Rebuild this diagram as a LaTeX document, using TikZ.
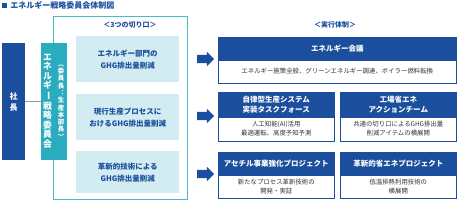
\documentclass[tikz,border=0pt]{standalone}
\usepackage{fontspec}
\setmainfont{Noto Sans CJK JP}
\usepackage{xcolor}
\usepackage{graphicx}
\usetikzlibrary{positioning,shapes.arrows}

\definecolor{navy}{HTML}{1B4F9E}
\definecolor{cteal}{HTML}{2AABBE}
\definecolor{frameteal}{HTML}{4CB8CC}
\definecolor{paleblue}{HTML}{D3ECF1}
\definecolor{bodytext}{HTML}{333333}

\newcommand{\tatebo}{\rotatebox[origin=c]{-90}{ー}}

\begin{document}
\begin{tikzpicture}[
  x=1pt, y=-1pt,
  cut/.style={rectangle, fill=paleblue, minimum width=103pt, anchor=north west, align=center, text=navy, font=\fontsize{7.5}{12}\selectfont\bfseries},
  hdr/.style={rectangle, fill=navy, draw=navy, line width=0.6pt, anchor=north west, align=center, text=white, inner sep=1pt, font=\fontsize{7.5}{10}\selectfont\bfseries},
  bodybox/.style={rectangle, fill=white, draw=navy, line width=0.6pt, below=0pt of #1, align=center, text=bodytext, inner sep=1pt, font=\fontsize{6.4}{9}\selectfont},
  tag/.style={text=navy, inner sep=0pt, font=\fontsize{7}{7}\selectfont\bfseries},
  bigarrow/.style={single arrow, fill=navy, inner xsep=0pt, inner ysep=4pt, minimum height=17pt, single arrow head extend=3pt},
  link/.style={draw=gray!80, line width=0.8pt}
]
\useasboundingbox (0,0) rectangle (461,207);

% title
\node[fill=navy, inner sep=0pt, minimum size=5pt] (mark) at (4.5,5.5) {};
\node[right=3pt of mark, tag, font=\fontsize{8}{8}\selectfont\bfseries] (title) {エネルギー戦略委員会体制図};

% left side
\node[draw=frameteal, fill=white, line width=0.9pt, minimum width=134pt, minimum height=183pt, anchor=north west] (frame) at (53,16) {};
\node[tag] (cutlabel) at (130,25) {＜3つの切り口＞};

\node[fill=navy, minimum width=23pt, minimum height=117pt, anchor=north west] (pres) at (2,43) {};
\node[text=white, align=center, font=\fontsize{8}{11}\selectfont\bfseries] (prestext) at (pres.center) {社\\長};
\node[fill=cteal, minimum width=26pt, minimum height=117pt, anchor=north west] (cmte) at (41,43) {};
\node[text=white, align=center, inner sep=0pt, font=\fontsize{8.8}{9.5}\selectfont\bfseries] (cmtename) at (47.5,101) {エ\\ネ\\ル\\ギ\\\tatebo\\戦\\略\\委\\員\\会};
\node[text=white, align=center, inner sep=0pt, font=\fontsize{6.4}{7.3}\selectfont\bfseries] (cmtechair) at (61,102) {︵\\委\\員\\長\\︓\\生\\産\\本\\部\\長\\︶};
\draw[link] (pres.east) -- (cmte.west);

\node[cut, minimum height=46pt] (cut1) at (76,36) {エネルギー部門の\\GHG排出量削減};
\node[cut, minimum height=46pt] (cut2) at (76,94) {現行生産プロセスに\\おけるGHG排出量削減};
\node[cut, minimum height=42pt] (cut3) at (76,151) {革新的技術による\\GHG排出量削減};

% arrows
\node[bigarrow] (arr1) at (203.5,59) {};
\node[bigarrow] (arr2) at (203.5,116) {};
\node[bigarrow] (arr3) at (203.5,174) {};

% right side
\node[tag] (execlabel) at (335,25) {＜実行体制＞};

\node[hdr, minimum width=238pt, minimum height=22pt] (kaigi) at (218,37) {エネルギー会議};
\node[bodybox=kaigi, minimum width=238pt, minimum height=23pt] (kaigibody) {エネルギー施策全般、グリーンエネルギー調達、ボイラー燃料転換};

\node[hdr, minimum width=116pt, minimum height=24pt] (jiritsu) at (218,92) {自律型生産システム\\実装タスクフォース};
\node[bodybox=jiritsu, minimum width=116pt, minimum height=24pt] (jiritsubody) {人工知能(AI)活用\\最適運転、高度予知予測};
\node[hdr, minimum width=116pt, minimum height=24pt] (koujou) at (340,92) {工場省エネ\\アクションチーム};
\node[bodybox=koujou, minimum width=116pt, minimum height=24pt] (koujoubody) {共通の切り口によるGHG排出量\\削減アイテムの横展開};

\node[hdr, minimum width=116pt, minimum height=22pt] (acetyl) at (218,152) {アセチル事業強化プロジェクト};
\node[bodybox=acetyl, minimum width=116pt, minimum height=23pt] (acetylbody) {新たなプロセス革新技術の\\開発・実証};
\node[hdr, minimum width=116pt, minimum height=22pt] (kakushin) at (340,152) {革新的省エネプロジェクト};
\node[bodybox=kakushin, minimum width=116pt, minimum height=23pt] (kakushinbody) {低温排熱利用技術の\\横展開};
\end{tikzpicture}
\end{document}
